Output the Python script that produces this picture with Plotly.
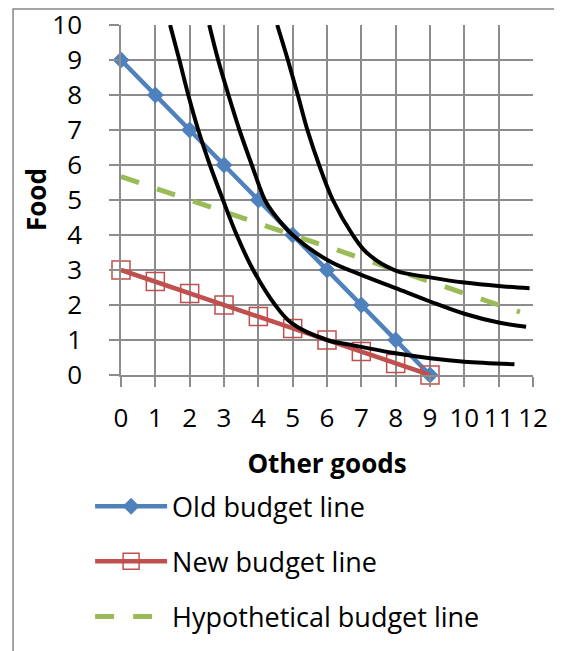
import plotly.graph_objects as go

# ---- data ----
old_x = [0, 1, 2, 3, 4, 5, 6, 7, 8, 9]
old_y = [9, 8, 7, 6, 5, 4, 3, 2, 1, 0]

new_x = [0, 1, 2, 3, 4, 5, 6, 7, 8, 9]
new_y = [3, 2.67, 2.33, 2, 1.67, 1.33, 1, 0.67, 0.33, 0]

hyp_x = [0, 1, 2, 3, 4, 5, 6, 7, 8, 9, 10, 11, 11.62]
hyp_y = [5.67, 5.33, 5, 4.67, 4.33, 4, 3.67, 3.33, 3, 2.67, 2.33, 2, 1.8]

ic1_x = [1.43, 1.70, 1.96, 2.25, 2.59, 2.97, 3.37, 3.85, 4.49, 4.97, 6.0, 6.7, 8, 9, 10, 11.46]
ic1_y = [10, 9, 8, 7, 6, 5, 4, 3, 2, 1.48, 1.0, 0.86, 0.62, 0.48, 0.38, 0.31]

ic2_x = [2.57, 2.83, 3.13, 3.45, 3.81, 4.19, 4.44, 5, 6.09, 7, 8, 9, 10, 11, 11.8]
ic2_y = [10, 9, 8, 7, 6, 5, 4.62, 4, 3.24, 2.86, 2.48, 2.1, 1.75, 1.5, 1.38]

ic3_x = [4.55, 4.86, 5.15, 5.43, 5.77, 6.17, 6.75, 7.15, 8, 9, 10, 11, 11.9]
ic3_y = [10, 9, 8, 7, 6, 5, 4, 3.5, 2.98, 2.79, 2.64, 2.54, 2.48]

x_ticks = list(range(0, 13))
y_ticks = list(range(0, 11))

FONT = "Open Sans"
FS = 26
BLUE = "#4F81BD"
RED = "#C0504D"
GREEN = "#9BBB59"
GRID = "#8C8C8C"

fig = go.Figure()

fig.add_trace(go.Scatter(
    x=old_x, y=old_y, mode="lines+markers", name="Old budget line",
    legendgroup="a", cliponaxis=False,
    line=dict(color=BLUE, width=4.5),
    marker=dict(symbol="diamond", size=13, color=BLUE, line=dict(width=0)),
))
fig.add_trace(go.Scatter(
    x=new_x, y=new_y, mode="lines+markers", name="New budget line",
    legendgroup="b", cliponaxis=False,
    line=dict(color=RED, width=4.5),
    marker=dict(symbol="square-open", size=18, color=RED, line=dict(width=1.5, color=RED)),
))
fig.add_trace(go.Scatter(
    x=hyp_x, y=hyp_y, mode="lines", name="Hypothetical budget line",
    legendgroup="c",
    line=dict(color=GREEN, width=5, dash="19px,19px"),
))

for cx, cy in [(ic1_x, ic1_y), (ic2_x, ic2_y), (ic3_x, ic3_y)]:
    fig.add_trace(go.Scatter(
        x=cx, y=cy, mode="lines", showlegend=False,
        line=dict(color="black", width=4, shape="spline", smoothing=1.0),
        hoverinfo="skip",
    ))

axis_common = dict(
    showgrid=True, gridcolor=GRID, gridwidth=1.5,
    showline=True, linecolor=GRID, linewidth=1.5,
    ticks="outside", ticklen=10, tickwidth=1.5, tickcolor=GRID,
    tickfont=dict(family=FONT, size=FS, color="black"),
    zeroline=False, fixedrange=True, ticklabeloverflow="allow",
)

fig.update_xaxes(
    range=[0, 12], tickmode="array", tickvals=x_ticks, tickangle=0,
    title=dict(text="<b>Other goods</b>", font=dict(family=FONT, size=FS, color="black"), standoff=21),
    ticklabelstandoff=9,
    **axis_common,
)
fig.update_yaxes(
    range=[0, 10], tickmode="array", tickvals=y_ticks,
    ticklabelstandoff=22,
    **axis_common,
)

# y-axis title as a rotated annotation
fig.add_annotation(
    text="<b>Food</b>", xref="paper", yref="paper", x=-0.2063, y=0.5,
    xanchor="center", yanchor="middle", textangle=-90, showarrow=False,
    font=dict(family=FONT, size=FS, color="black"),
)

# outer chart border (partially outside the visible page)
fig.add_shape(type="rect", xref="paper", yref="paper",
              x0=-0.262, y0=-1.2, x1=1.3, y1=1.046,
              line=dict(color="#878787", width=1.5), fillcolor="rgba(0,0,0,0)", layer="below")

fig.update_layout(
    width=554, height=643,
    margin=dict(l=113, r=29, t=17, b=276, autoexpand=False),
    paper_bgcolor="white", plot_bgcolor="white",
    font=dict(family=FONT, size=FS, color="black"),
    showlegend=True,
    legend=dict(
        xref="container", yref="container",
        x=0.1482, xanchor="left", y=0.2625, yanchor="top",
        font=dict(family=FONT, size=27, color="black"),
        itemwidth=72, tracegroupgap=17, traceorder="grouped",
        bgcolor="rgba(0,0,0,0)",
    ),
)

fig.write_html("out.html")
